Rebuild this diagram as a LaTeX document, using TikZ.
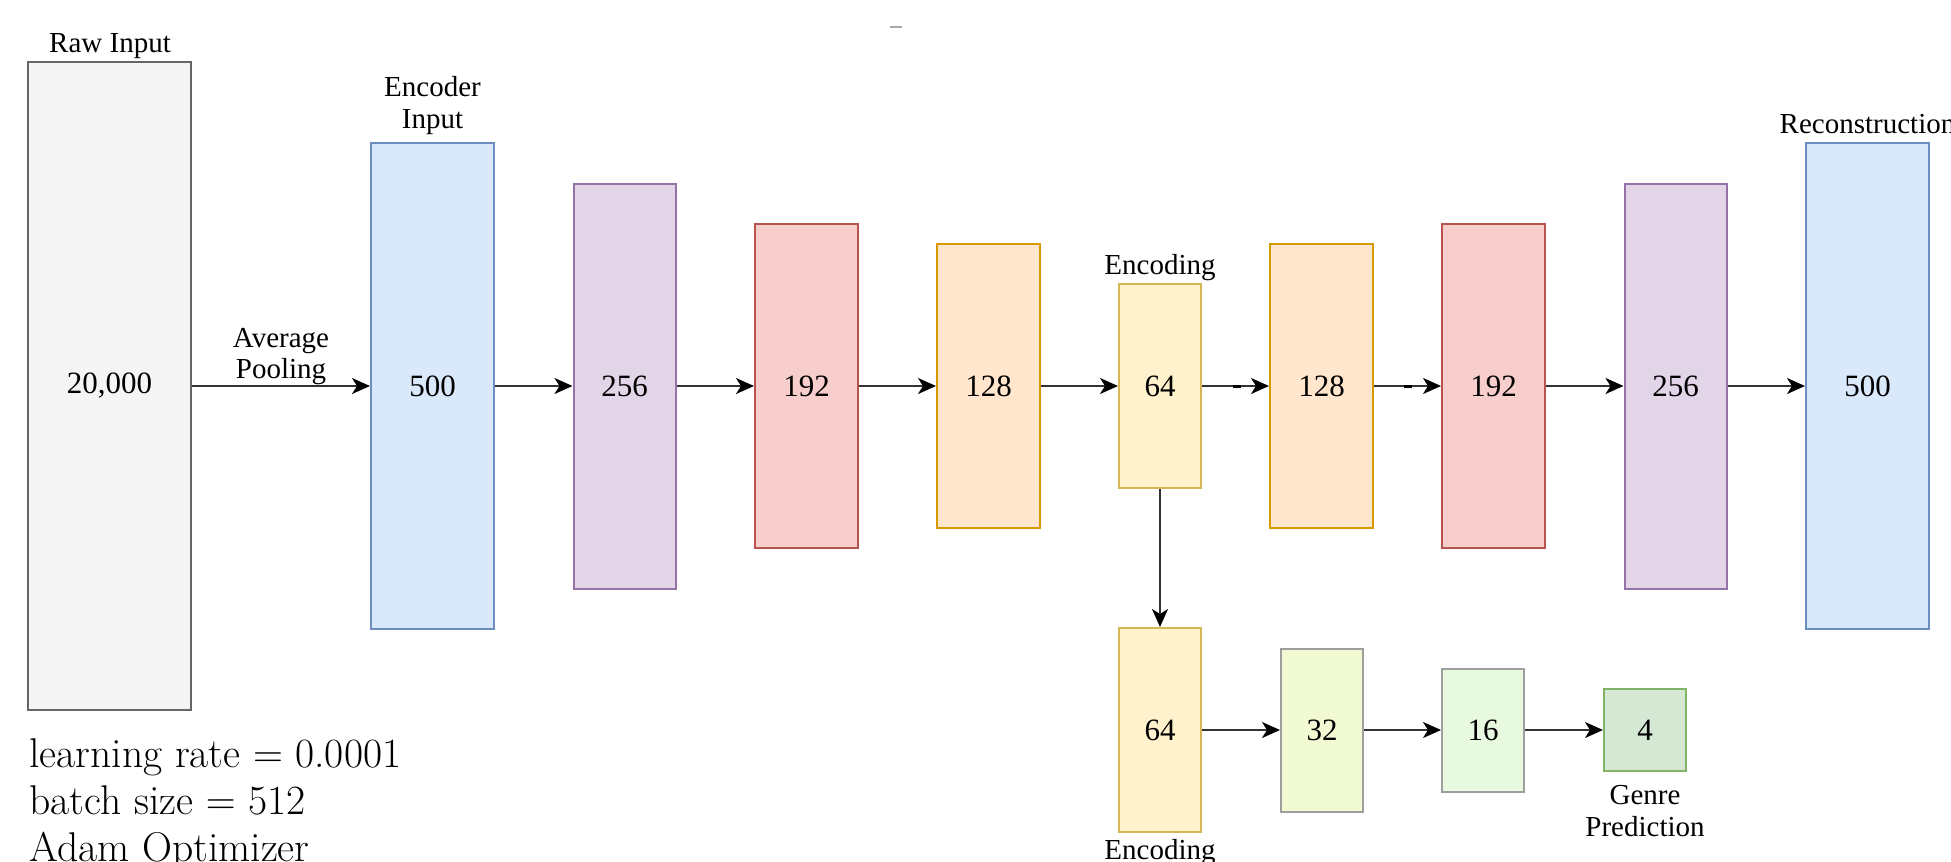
\documentclass[tikz,border=0pt]{standalone}
\usepackage{fontspec}
\newfontfamily\tnr{Liberation Serif}
\usetikzlibrary{arrows.meta,calc}

\definecolor{grayfill}{HTML}{F5F5F5}\definecolor{grayline}{HTML}{666666}
\definecolor{bluefill}{HTML}{DAE8FC}\definecolor{blueline}{HTML}{6C8EBF}
\definecolor{purpfill}{HTML}{E1D5E7}\definecolor{purpline}{HTML}{9673A6}
\definecolor{redfill}{HTML}{F8CECC}\definecolor{redline}{HTML}{B85450}
\definecolor{orgfill}{HTML}{FFE6CC}\definecolor{orgline}{HTML}{D79B00}
\definecolor{ylwfill}{HTML}{FFF2CC}\definecolor{ylwline}{HTML}{D6B656}
\definecolor{limefill}{HTML}{F2FAD4}\definecolor{limeline}{HTML}{9E9E9E}
\definecolor{mintfill}{HTML}{E7FAE0}\definecolor{mintline}{HTML}{9E9E9E}
\definecolor{grnfill}{HTML}{D5E8D4}\definecolor{grnline}{HTML}{82B366}
\definecolor{linkgray}{HTML}{333333}

\begin{document}
\begin{tikzpicture}[x=0.5pt,y=-0.5pt,
  layer/.style={rectangle, line width=1pt, inner sep=0pt,
    font=\tnr\fontsize{15.5}{18}\selectfont},
  sz/.style 2 args={minimum width=#1*0.5pt, minimum height=#2*0.5pt},
  graybox/.style={layer, fill=grayfill, draw=grayline},
  bluebox/.style={layer, fill=bluefill, draw=blueline},
  purpbox/.style={layer, fill=purpfill, draw=purpline},
  redbox/.style={layer, fill=redfill, draw=redline},
  orgbox/.style={layer, fill=orgfill, draw=orgline},
  ylwbox/.style={layer, fill=ylwfill, draw=ylwline},
  limebox/.style={layer, fill=limefill, draw=limeline},
  mintbox/.style={layer, fill=mintfill, draw=mintline},
  grnbox/.style={layer, fill=grnfill, draw=grnline},
  lbl/.style={font=\tnr\fontsize{14.5}{17}\selectfont, inner sep=0pt, anchor=base},
  link/.style={draw=linkgray, line width=1pt,
    -{Stealth[length=9pt, width=8pt, inset=2.5pt, color=black]}},
  glitch/.style={draw=black, line width=1.5pt},
  note/.style={font=\fontsize{20.8}{24}\selectfont, inner sep=0pt, anchor=base west}]

\useasboundingbox (0,0) rectangle (1951,862);

% encoder / decoder chain
\node[graybox, sz={163}{648}] (raw) at (109.5,386) {20,000};
\node[bluebox, sz={123}{486}] (enc500) at (432.5,386) {500};
\node[purpbox, sz={102}{405}] (enc256) at (624.5,386) {256};
\node[redbox,  sz={103}{324}] (enc192) at (806.5,386) {192};
\node[orgbox,  sz={103}{284}] (enc128) at (988.5,386) {128};
\node[ylwbox,  sz={82}{204}]  (code)   at (1160,386)  {64};
\node[orgbox,  sz={103}{284}] (dec128) at (1321.5,386) {128};
\node[redbox,  sz={103}{324}] (dec192) at (1493.5,386) {192};
\node[purpbox, sz={102}{405}] (dec256) at (1675.5,386) {256};
\node[bluebox, sz={123}{486}] (dec500) at (1867.5,386) {500};

% genre classifier branch
\node[ylwbox,  sz={82}{204}] (cls64) at (1160,730) {64};
\node[limebox, sz={82}{163}] (cls32) at (1322,730) {32};
\node[mintbox, sz={82}{123}] (cls16) at (1483,730) {16};
\node[grnbox,  sz={82}{82}]  (cls4)  at (1645,730) {4};

% labels
\node[lbl] (lraw)  at (110,52)    {Raw Input};
\node[lbl] (lenc1) at (432.5,97)  {Encoder};
\node[lbl] (lenc2) at (432.5,128) {Input};
\node[lbl] (lcode) at (1160,274)  {Encoding};
\node[lbl] (lrec)  at (1867.5,133) {Reconstruction};
\node[lbl] (lavg)  at (281,347)   {Average};
\node[lbl] (lpool) at (281,378)   {Pooling};
\node[lbl] (lgen1) at (1645,804)  {Genre};
\node[lbl] (lgen2) at (1645,836)  {Prediction};
\node[lbl] (lcls)  at (1160,859)  {Encoding};

% connectors
\draw[link] (raw.east) -- (enc500.west);
\draw[link] (enc500.east) -- (enc256.west);
\draw[link] (enc256.east) -- (enc192.west);
\draw[link] (enc192.east) -- (enc128.west);
\draw[link] (enc128.east) -- (code.west);
\draw[link] (code.east) -- (dec128.west);
\draw[link] (dec128.east) -- (dec192.west);
\draw[link] (dec192.east) -- (dec256.west);
\draw[link] (dec256.east) -- (dec500.west);
\draw[link] (code.south) -- (cls64.north);
\draw[link] (cls64.east) -- (cls32.west);
\draw[link] (cls32.east) -- (cls16.west);
\draw[link] (cls16.east) -- (cls4.west);

% short dark strokes on two decoder links
\draw[glitch] ($(code.east)!0.46!(dec128.west)$) -- ($(code.east)!0.58!(dec128.west)$);
\draw[glitch] ($(dec128.east)!0.45!(dec192.west)$) -- ($(dec128.east)!0.57!(dec192.west)$);

% stray mark near the top
\draw[gray!70, line width=0.8pt] (890,27) -- (902,27);

% training settings
\node[note] (lr)  at (29,767) {learning rate $=$ 0.0001};
\node[note] (bs)  at (29,814) {batch size $=$ 512};
\node[note] (opt) at (29,861) {Adam Optimizer};
\end{tikzpicture}
\end{document}
